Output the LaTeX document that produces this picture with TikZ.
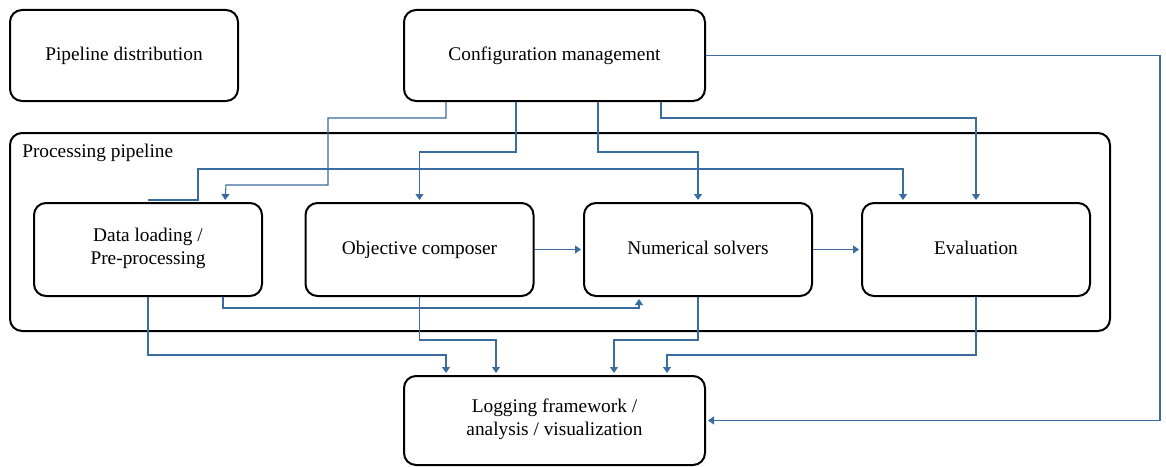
\documentclass[tikz,border=0pt]{standalone}
\usepackage{fontspec}
\setmainfont{Liberation Serif}
\usetikzlibrary{arrows.meta,calc}
\definecolor{linkblue}{RGB}{58,108,160}

\begin{document}
\begin{tikzpicture}
    [x=0.75pt, y=-0.75pt,
    every node/.style={font=\fontsize{14.5pt}{17.5pt}\selectfont, align=center},
    block/.style={draw, line width=1.5pt, rounded corners=9pt,
        minimum width=171pt, minimum height=69.75pt,
        execute at begin node=\strut},
    wideblock/.style={block, minimum width=225.75pt},
    link/.style={draw=linkblue, line width=0.8pt,
        -{Triangle[width=6pt,length=4.5pt]}, shorten >=1.5pt}
    ]
    \useasboundingbox (0,0) rectangle (1166,467);

    \node (pipe) [block, minimum width=825pt, minimum height=148.5pt] at (560,232) {};
    \node (pipelabel) [anchor=west, inner sep=0pt] at (22,153) {Processing pipeline};

    \node (dist) [block, minimum height=68.25pt] at (124,55.5) {Pipeline distribution};
    \node (config) [wideblock, minimum height=68.25pt] at (554.5,55.5) {Configuration management};
    \node (load) [block] at (148,249.5) {Data loading /\\Pre-processing};
    \node (obj) [block] at (419.5,249.5) {Objective composer};
    \node (num) [block] at (698,249.5) {Numerical solvers};
    \node (eval) [block] at (976,249.5) {Evaluation};
    \node (log) [wideblock, minimum height=66.75pt] at (554.5,420.5) {Logging framework /\\analysis / visualization};

    \draw [link] ([xshift=32.25pt]config.south west) |- (328,118) |- (226,185) -- ([xshift=144pt]load.north west);
    \draw [link] ([xshift=84.75pt]config.south west) |- (470,152) -| (obj.north);
    \draw [link] ([xshift=146.25pt]config.south west) |- (650,152) -| (num.north);
    \draw [link] ([xshift=193.5pt]config.south west) |- (800,118) -| (eval.north);
    \draw [link] ([yshift=1.5pt]load.north) -- ++(50,0) |- (550,169) -| ([xshift=31.5pt]eval.north west);
    \draw [link] (config.east) -| (1160,300) |- (log.east);

    \draw [link] (obj.east) -- (num.west);
    \draw [link] (num.east) -- (eval.west);

    \draw [link] (load.south) |- (300,355) -| ([xshift=32.25pt]log.north west);
    \draw [link] ([xshift=142.5pt]load.south west) |- (400,308) -| ([xshift=42pt]num.south west);
    \draw [link] (obj.south) |- (460,340) -| ([xshift=69.75pt]log.north west);
    \draw [link] (num.south) |- (650,340) -| ([xshift=158.25pt]log.north west);
    \draw [link] (eval.south) |- (800,355) -| ([xshift=198pt]log.north west);
\end{tikzpicture}
\end{document}
